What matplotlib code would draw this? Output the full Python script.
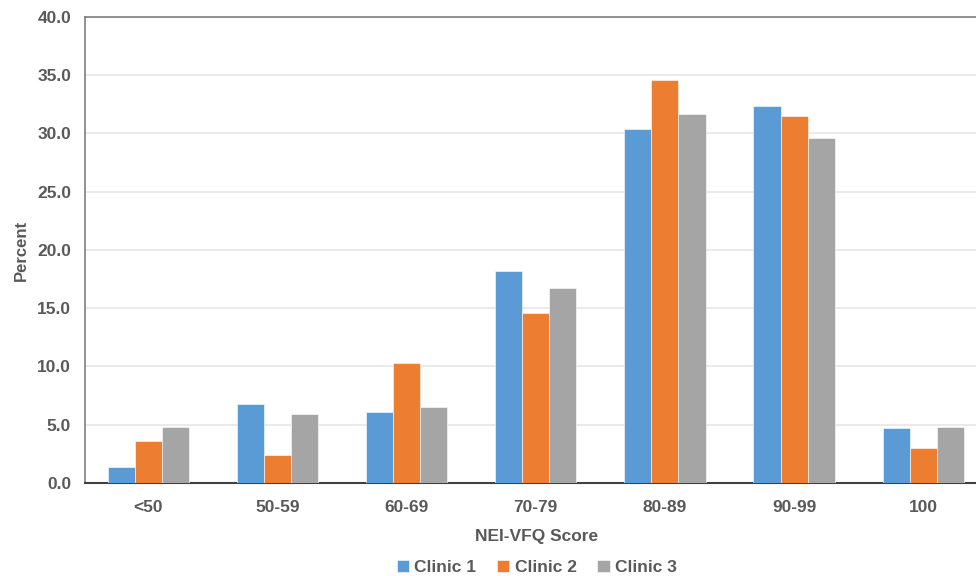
import matplotlib
matplotlib.use("Agg")
import matplotlib.pyplot as plt
from matplotlib import font_manager
import numpy as np

categories = ["<50", "50-59", "60-69", "70-79", "80-89", "90-99", "100"]
clinic1 = [1.4, 6.8, 6.1, 18.2, 30.4, 32.4, 4.7]
clinic2 = [3.6, 2.4, 10.3, 14.6, 34.6, 31.5, 3.0]
clinic3 = [4.8, 5.9, 6.5, 16.7, 31.7, 29.6, 4.8]
series_names = ["Clinic 1", "Clinic 2", "Clinic 3"]
colors = ["#5B9BD5", "#ED7D31", "#A5A5A5"]

names = {f.name for f in font_manager.fontManager.ttflist}
if "Liberation Sans Narrow" in names:
    plt.rcParams["font.family"] = ["Liberation Sans Narrow", "DejaVu Sans"]
else:
    plt.rcParams["font.family"] = ["Liberation Sans", "DejaVu Sans"]
plt.rcParams["font.weight"] = "bold"

text_col = "#595959"

fig = plt.figure(figsize=(9.76, 5.76), dpi=100)
ax = fig.add_axes([0.0871, 0.1615, 0.925, 0.809])

x = np.arange(len(categories))
w = 0.21
for i, (vals, name, c) in enumerate(zip([clinic1, clinic2, clinic3], series_names, colors)):
    ax.bar(x + (i - 1) * w, vals, width=w, color=c, label=name,
           edgecolor="white", linewidth=0.4, zorder=3)

ax.set_ylim(0, 40)
ax.set_yticks(np.arange(0, 41, 5))
ax.set_yticklabels([f"{v:.1f}" for v in np.arange(0, 41, 5)])
ax.set_xlim(-0.49, len(categories) - 0.5)
ax.set_xticks(x)
ax.set_xticklabels(categories)

ax.grid(axis="y", color="#E6E6E6", linewidth=1.2, zorder=0)
ax.set_axisbelow(True)

for side in ["top", "left", "right"]:
    ax.spines[side].set_color("#7F7F7F")
    ax.spines[side].set_linewidth(1.2)
ax.spines["bottom"].set_color("#404040")
ax.spines["bottom"].set_linewidth(1.5)

ax.tick_params(axis="both", length=0, labelsize=12.5, colors=text_col, pad=10)
ax.tick_params(axis="x", pad=12)

ax.set_ylabel("Percent", fontsize=12, color=text_col, labelpad=6, fontweight="bold")
ax.set_xlabel("NEI-VFQ Score", fontsize=12.5, color=text_col, labelpad=10, fontweight="bold")

leg = fig.legend(loc="lower center", bbox_to_anchor=(0.55, -0.026), ncol=3, frameon=False,
                 fontsize=12.5, handlelength=0.7, handleheight=0.7, handletextpad=0.3,
                 columnspacing=1.2)
for t in leg.get_texts():
    t.set_color(text_col)

fig.savefig("out.png", dpi=100)
